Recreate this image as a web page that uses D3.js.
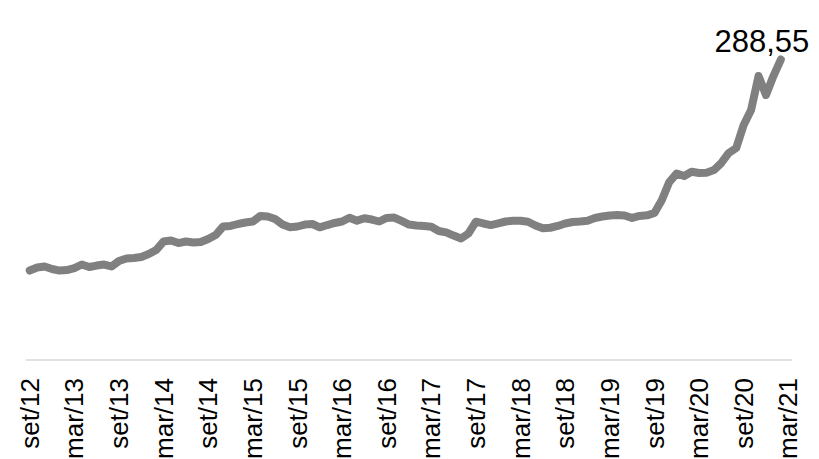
<!DOCTYPE html>
<html>
<head>
<meta charset="utf-8">
<script src="https://cdn.jsdelivr.net/npm/d3@7"></script>
<style>
  body { margin: 0; background: #fff; }
  text { font-family: "Liberation Sans", Arial, sans-serif; }
</style>
</head>
<body>
<div id="chart"></div>
<script>
// Month abbreviations (pt-BR) and the span of the category axis
const monthNames = ["jan", "fev", "mar", "abr", "mai", "jun", "jul", "ago", "set", "out", "nov", "dez"];
const startMonth = 8;   // set
const startYear = 12;
const monthCount = 103; // set/12 .. mar/21

// Series values, one per month from set/12 (last one is fev/21)
const values = [
  85.9, 88.8, 89.8, 87.4, 85.9, 86.4, 88.3, 91.7, 89.3, 90.7,
  91.7, 89.8, 95.1, 97.5, 97.9, 98.9, 101.8, 105.6, 113.8, 114.8,
  112.3, 113.8, 112.8, 113.3, 116.2, 120.0, 128.2, 128.7, 130.6, 132.0,
  133.0, 138.3, 137.8, 135.4, 130.1, 127.4, 128.2, 130.1, 130.6, 127.4,
  129.6, 131.6, 133.0, 136.6, 133.8, 136.1, 134.9, 133.0, 136.4, 136.8,
  133.5, 130.1, 129.2, 128.7, 128.0, 123.9, 122.6, 119.5, 116.7, 121.5,
  132.8, 131.1, 129.6, 131.3, 133.0, 133.8, 133.8, 132.8, 129.2, 126.5,
  127.0, 128.7, 131.1, 132.5, 133.0, 133.8, 136.4, 137.8, 138.8, 139.2,
  138.8, 136.4, 138.3, 138.9, 141.2, 153.6, 170.9, 179.1, 176.7, 180.8,
  179.6, 179.9, 182.4, 189.2, 198.8, 203.6, 225.7, 240.1, 272.7, 254.5,
  272.7, 288.55
];

// Tick labels shown on the axis (every 6 months)
const tickLabels = [
  "set/12", "mar/13", "set/13", "mar/14", "set/14", "mar/15", "set/15", "mar/16", "set/16",
  "mar/17", "set/17", "mar/18", "set/18", "mar/19", "set/19", "mar/20", "set/20", "mar/21"
];

const width = 819, height = 459;
const plot = { left: 26, right: 792, top: 47.6, bottom: 360 };

// Build month categories
const months = d3.range(monthCount).map(i => {
  const m = (startMonth + i) % 12;
  const y = startYear + Math.floor((startMonth + i) / 12);
  return monthNames[m] + "/" + y;
});

const data = values.map((v, i) => ({ month: months[i], value: v }));

const svg = d3.select("#chart")
  .append("svg")
  .attr("width", width)
  .attr("height", height);

// Scales
const x = d3.scaleBand().domain(months).range([plot.left, plot.right]).paddingInner(0).paddingOuter(0);
const y = d3.scaleLinear().domain([0, 300]).range([plot.bottom, plot.top]);
const cx = d => x(d) + x.bandwidth() / 2;

// Axis line
svg.append("line")
  .attr("x1", plot.left).attr("x2", plot.right)
  .attr("y1", plot.bottom).attr("y2", plot.bottom)
  .attr("stroke", "#d9d9d9")
  .attr("stroke-width", 1.5);

// Rotated tick labels
svg.append("g")
  .selectAll("text")
  .data(tickLabels)
  .join("text")
  .attr("transform", d => `translate(${cx(d)},378) rotate(-90)`)
  .attr("text-anchor", "end")
  .attr("dy", "0.35em")
  .attr("font-size", 26)
  .attr("fill", "#000")
  .text(d => d);

// Line
const line = d3.line()
  .x(d => cx(d.month))
  .y(d => y(d.value));

svg.append("path")
  .datum(data)
  .attr("fill", "none")
  .attr("stroke", "#808080")
  .attr("stroke-width", 8)
  .attr("stroke-linejoin", "round")
  .attr("stroke-linecap", "round")
  .attr("d", line);

// Label of the last value
const last = data[data.length - 1];
svg.append("text")
  .attr("x", cx(last.month) - 19)
  .attr("y", y(last.value) - 8)
  .attr("text-anchor", "middle")
  .attr("font-size", 31)
  .attr("fill", "#000")
  .text(String(last.value).replace(".", ","));
</script>
</body>
</html>
